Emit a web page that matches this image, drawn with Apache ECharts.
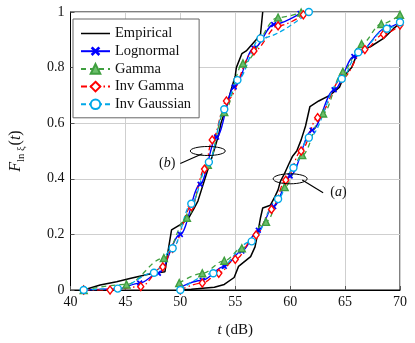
<!DOCTYPE html>
<html><head><meta charset="utf-8">
<script src="https://cdn.jsdelivr.net/npm/echarts@6/dist/echarts.min.js"></script>
<style>html,body{margin:0;padding:0;background:#fff}#c{width:415px;height:343px}</style>
</head><body><div id="c"></div>
<script>
const xTicks = [40, 45, 50, 55, 60, 65, 70];
const yTicks = [0, 0.2, 0.4, 0.6, 0.8, 1];
const seriesNames = ['Empirical', 'Lognormal', 'Gamma', 'Inv Gamma', 'Inv Gaussian'];

// group (b)
const empiricalB = [[41.2,0],[42.7,0.018],[44.2,0.03],[45.5,0.042],[47.1,0.057],[48.6,0.066],[48.9,0.144],[49.2,0.216],[50.0,0.235],[50.7,0.255],[51.2,0.29],[51.6,0.32],[52.0,0.37],[52.4,0.42],[52.9,0.48],[53.2,0.52],[53.5,0.56],[53.7,0.6],[54.2,0.66],[54.7,0.73],[55.0,0.77],[55.1,0.8],[55.6,0.85],[56.0,0.86],[56.9,0.9],[57.3,0.92],[57.5,1.0]];
const lognormalB = [[41.2,0],[44.3,0.004],[46.3,0.025],[48.0,0.06],[50.0,0.2],[51.8,0.38],[53.3,0.55],[54.9,0.73],[56.7,0.87],[58.5,0.955],[60.9,0.995]];
const gammaB = [[41.2,0],[45.1,0.02],[48.5,0.115],[50.6,0.26],[52.5,0.45],[54.0,0.64],[55.7,0.815],[58.9,0.98],[61.0,0.998]];
const invGammaB = [[41.2,0],[43.6,0],[46.4,0.012],[48.4,0.083],[49.3,0.15],[51.0,0.3],[52.2,0.435],[52.9,0.54],[54.2,0.68],[56.7,0.86],[58.9,0.95],[61.2,0.99]];
const invGaussianB = [[41.2,0],[44.3,0.005],[47.6,0.062],[49.3,0.15],[51.0,0.31],[52.6,0.46],[54.0,0.65],[55.2,0.755],[57.3,0.905],[61.7,1.0]];

// group (a)
const empiricalA = [[50.0,0],[51.0,0.003],[53.1,0.01],[54.0,0.02],[54.9,0.045],[55.3,0.085],[56.4,0.12],[56.8,0.155],[57.1,0.215],[57.3,0.26],[57.5,0.295],[58.2,0.305],[58.6,0.335],[58.9,0.36],[59.1,0.39],[59.5,0.42],[59.9,0.455],[60.2,0.48],[60.6,0.5],[61.0,0.54],[61.4,0.59],[61.8,0.66],[62.6,0.68],[63.6,0.70],[64.5,0.73],[64.9,0.77],[65.6,0.80],[66.0,0.84],[66.4,0.86],[67.3,0.875],[68.5,0.905],[69.4,0.94],[70.0,0.96]];
const lognormalA = [[50.0,0.01],[52.0,0.035],[54.0,0.085],[55.6,0.14],[57.1,0.215],[58.5,0.3],[60.0,0.41],[62.0,0.575],[64.0,0.72],[65.8,0.84],[68.9,0.945],[70.0,0.965]];
const gammaA = [[49.9,0.025],[52.0,0.06],[54.0,0.105],[55.6,0.15],[57.8,0.245],[59.5,0.37],[61.1,0.485],[63.0,0.635],[64.8,0.785],[66.5,0.885],[68.3,0.957],[70.0,0.99]];
const invGammaA = [[50.0,0],[52.0,0.025],[53.5,0.06],[55.0,0.11],[56.9,0.198],[58.3,0.29],[59.6,0.395],[61.0,0.5],[62.5,0.62],[64.7,0.76],[66.8,0.865],[68.5,0.92],[70.0,0.953]];
const invGaussianA = [[50.0,0],[53.0,0.06],[56.5,0.175],[58.9,0.327],[60.3,0.44],[61.7,0.548],[64.7,0.76],[66.2,0.855],[68.8,0.94],[70.0,0.963]];

const SERIF = '"Liberation Serif", "DejaVu Serif", serif';
const crossPath = 'path://M2,0L5,3L8,0L10,2L7,5L10,8L8,10L5,7L2,10L0,8L3,5L0,2Z';
const lineIcon = 'path://M0,0L0.01,0L0.01,0.01ZM0,5.35H29V6.65H0ZM0,12L0.01,12L0.01,11.99Z';

const styles = {
  'Empirical':   {color:'#000000', type:'solid', width:1.5, symbol:'none', size:0, fill:'#000'},
  'Lognormal':   {color:'#0000ff', type:'solid', width:1.3, symbol:crossPath, size:6, fill:'#0000ff'},
  'Gamma':       {color:'#3f9f3f', type:[5,4], width:1.3, symbol:'triangle', size:7, fill:'#6cbf6c'},
  'Inv Gamma':   {color:'#ff0000', type:[6,3,1.5,3], width:1.3, symbol:'diamond', size:[6,8], fill:'#ffffff'},
  'Inv Gaussian':{color:'#00a8e8', type:[5,3], width:1.3, symbol:'circle', size:7, fill:'#ffffff'}
};
const groups = {
  'Empirical':[empiricalB, empiricalA],
  'Lognormal':[lognormalB, lognormalA],
  'Gamma':[gammaB, gammaA],
  'Inv Gamma':[invGammaB, invGammaA],
  'Inv Gaussian':[invGaussianB, invGaussianA]
};

const series = [];
seriesNames.forEach(function(n){
  const s = styles[n];
  groups[n].forEach(function(d){
    series.push({
      name:n, type:'line', data:d,
      smooth: n==='Empirical' ? false : 0.35,
      smoothMonotone:'x',
      showSymbol: s.symbol!=='none', showAllSymbol:true,
      symbol:s.symbol, symbolSize:s.size,
      lineStyle:{color:s.color, width:s.width, type:s.type},
      itemStyle:{color:s.fill, borderColor:s.color, borderWidth: (n==='Lognormal'||n==='Empirical'?0:1.4)},
      emphasis:{disabled:true},
      animation:false, z: 2
    });
  });
});

const legendData = seriesNames.map(function(n){
  return n==='Empirical' ? {name:n, icon:lineIcon, itemStyle:{color:'#000', borderWidth:0, borderColor:'transparent'}} : {name:n};
});

const chart = echarts.init(document.getElementById('c'), null, {renderer:'canvas'});
const axisCommon = {
  splitLine:{show:true, lineStyle:{color:'#cfcfcf', width:1}},
  axisLine:{show:true, lineStyle:{color:'#000', width:1}},
  axisTick:{show:true, inside:true, length:4, lineStyle:{color:'#555'}},
};
chart.setOption({
  animation:false,
  backgroundColor:'#fff',
  grid:{left:63, right:15, top:12, bottom:53, show:true, borderColor:'#000', borderWidth:1, backgroundColor:'transparent'},
  legend:{
    data:legendData, orient:'vertical', left:73, top:19,
    backgroundColor:'#fff', borderColor:'#666', borderWidth:1,
    padding:[7,8,6,7], itemWidth:29, itemHeight:12, itemGap:2.7,
    textStyle:{fontFamily:SERIF, fontSize:14.5, color:'#111', lineHeight:15},
    selectedMode:false
  },
  xAxis:Object.assign({
    type:'value', min:xTicks[0], max:xTicks[xTicks.length-1], interval:xTicks[1]-xTicks[0],
    axisLabel:{fontFamily:SERIF, fontSize:14, color:'#111', margin:5},
    name:'{i|t} (dB)', nameLocation:'middle', nameGap:33,
    nameTextStyle:{fontFamily:SERIF, fontSize:15, color:'#111', rich:{i:{fontFamily:SERIF, fontStyle:'italic', fontSize:15}}}
  }, axisCommon),
  yAxis:Object.assign({
    type:'value', min:yTicks[0], max:yTicks[yTicks.length-1], interval:yTicks[1]-yTicks[0],
    axisLabel:{fontFamily:SERIF, fontSize:14, color:'#111', margin:6},
    name:'{i|F}{s|ln ξ}({i|t})', nameLocation:'middle', nameGap:44,
    nameTextStyle:{fontFamily:SERIF, fontSize:16, color:'#111',
      rich:{i:{fontFamily:SERIF, fontStyle:'italic', fontSize:16, verticalAlign:'middle'},
            s:{fontFamily:SERIF, fontSize:10.5, verticalAlign:'top', padding:[10,1,0,0]}}}
  }, axisCommon),
  series:series
});

function px(t,f){ return chart.convertToPixel({gridIndex:0},[t,f]); }
const eb = px(52.5,0.5), ea = px(60.0,0.4);
const lb0 = px(52.0,0.49), lb1 = px(50.0,0.455), tb = px(48.8,0.457);
const la0 = px(61.1,0.396), la1 = px(63.0,0.35), ta = px(64.4,0.35);
chart.setOption({graphic:[
  {type:'ellipse', shape:{cx:eb[0], cy:eb[1], rx:17.5, ry:4.5}, style:{fill:'none', stroke:'#000', lineWidth:1}, z:10},
  {type:'ellipse', shape:{cx:ea[0], cy:ea[1], rx:17, ry:5}, style:{fill:'none', stroke:'#000', lineWidth:1}, z:10},
  {type:'line', shape:{x1:lb0[0], y1:lb0[1], x2:lb1[0], y2:lb1[1]}, style:{stroke:'#000', lineWidth:1.2}, z:10},
  {type:'line', shape:{x1:la0[0], y1:la0[1], x2:la1[0], y2:la1[1]}, style:{stroke:'#000', lineWidth:1.2}, z:10},
  {type:'text', x:tb[0], y:tb[1], style:{text:'({i|b})', font:'14px '+SERIF, fill:'#111', align:'center', verticalAlign:'middle', rich:{i:{fontStyle:'italic', fontFamily:SERIF, fontSize:14}}}, z:10},
  {type:'text', x:ta[0], y:ta[1], style:{text:'({i|a})', font:'14px '+SERIF, fill:'#111', align:'center', verticalAlign:'middle', rich:{i:{fontStyle:'italic', fontFamily:SERIF, fontSize:14}}}, z:10}
]});
</script></body></html>
